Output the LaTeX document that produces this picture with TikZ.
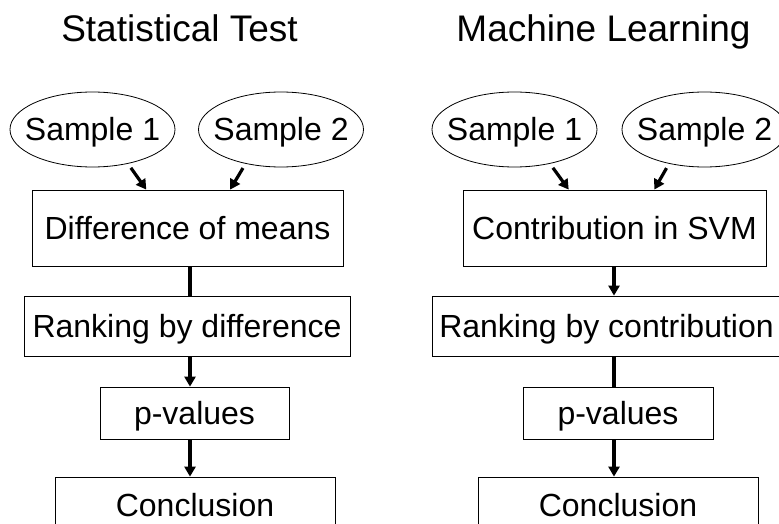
\documentclass[tikz,border=0pt]{standalone}
\usepackage{fontspec}
\setmainfont{Liberation Sans}
\usetikzlibrary{shapes.geometric,arrows.meta}
\begin{document}
\begin{tikzpicture}[x=1pt,y=-1pt,
        sample/.style={ellipse,draw,line width=0.8pt,minimum width=165pt,minimum height=75pt,
            inner xsep=-10pt,inner ysep=0pt,font=\fontsize{32}{38}\selectfont,text height=23pt,text depth=0pt},
        stage/.style={rectangle,draw,line width=0.8pt,inner sep=0pt,
            font=\fontsize{32}{38}\selectfont,text height=23pt,text depth=0pt},
        heading/.style={anchor=base,font=\fontsize{37}{44}\selectfont},
        flow/.style={line width=3.2pt,-{Triangle[length=10pt,width=11pt]}},
        link/.style={line width=3.2pt}]
        \useasboundingbox (0,0) rectangle (779,524);
        \clip (0,0) rectangle (779,524);
        \coordinate (colL) at (190,0);
        \coordinate (colR) at (614,0);
        \node[heading] (tstat) at (179.5,42) {Statistical Test};
        \node[sample] (s1) at (92.5,129.5) {Sample 1};
        \node[sample] (s2) at (281,129.5) {Sample 2};
        \node[stage,minimum width=311pt,minimum height=76pt] (diff) at (187.5,228) {Difference of means};
        \node[stage,minimum width=326pt,minimum height=60pt] (rank) at (187,326) {Ranking by difference};
        \node[stage,minimum width=189pt,minimum height=52pt] (pv) at (194.5,413) {p-values};
        \node[stage,minimum width=280pt,minimum height=56pt] (concl) at (195,505) {Conclusion};
        \draw[flow,shorten <=5pt] (s1.-44) -- (diff.137.5);
        \draw[flow,shorten <=5pt] (s2.-136) -- (diff.42.5);
        \draw[link] (diff.south -| colL) -- (rank.north -| colL);
        \draw[flow] (rank.south -| colL) -- (pv.north -| colL);
        \draw[flow] (pv.south -| colL) -- (concl.north -| colL);
        \node[heading] (tml) at (603.5,42) {Machine Learning};
        \node[sample] (s3) at (514.5,129.5) {Sample 1};
        \node[sample] (s4) at (704.5,129.5) {Sample 2};
        \node[stage,minimum width=303pt,minimum height=76pt] (svm) at (614.5,228) {Contribution in SVM};
        \node[stage,minimum width=349pt,minimum height=60pt] (rank2) at (606.5,326) {Ranking by contribution};
        \node[stage,minimum width=190pt,minimum height=52pt] (pv2) at (618,413) {p-values};
        \node[stage,minimum width=280pt,minimum height=56pt] (concl2) at (618,505) {Conclusion};
        \draw[flow,shorten <=5pt] (s3.-44) -- (svm.140.7);
        \draw[flow,shorten <=5pt] (s4.-136) -- (svm.44.6);
        \draw[flow] (svm.south -| colR) -- (rank2.north -| colR);
        \draw[link] (rank2.south -| colR) -- (pv2.north -| colR);
        \draw[flow] (pv2.south -| colR) -- (concl2.north -| colR);
\end{tikzpicture}
\end{document}
